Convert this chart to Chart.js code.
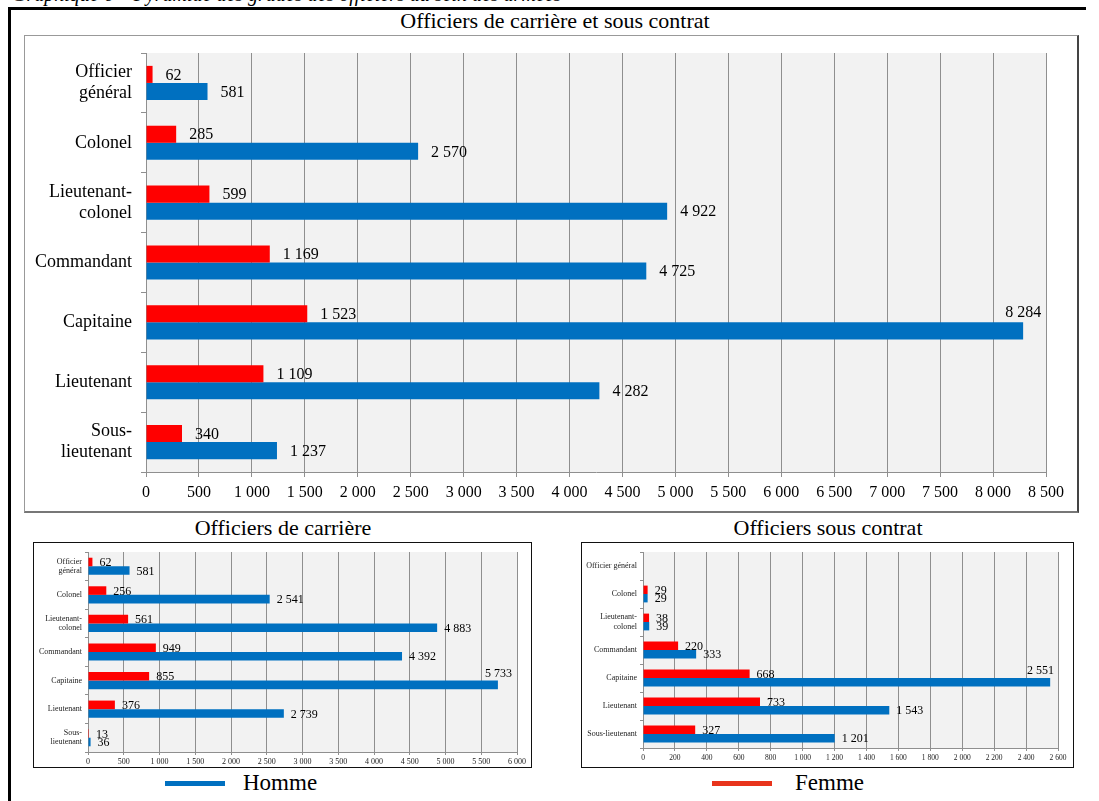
<!DOCTYPE html>
<html lang="fr">
<head>
<meta charset="utf-8">
<title>Officiers de carrière et sous contrat</title>
<script src="https://cdn.jsdelivr.net/npm/chart.js@4.4.1/dist/chart.umd.min.js"></script>
<style>
  html, body { margin: 0; padding: 0; background: #fff; }
  body { width: 1099px; height: 801px; position: relative; overflow: hidden; font-family: 'Liberation Serif', serif; color: #000; }
  .abs { position: absolute; }
  .cut-title { left: 12px; top: -17px; font-style: italic; font-size: 20px; white-space: nowrap; }
  .frame-top { left: 8px; top: 7px; width: 1078px; height: 3px; background: #000; }
  .frame-left { left: 8px; top: 7px; width: 3px; height: 800px; background: #000; }
  .title { font-size: 22px; text-align: center; white-space: nowrap; }
  .box-main { left: 24px; top: 35px; width: 1052px; height: 475px; border: 1px solid #999; border-right: 2px solid #444; border-bottom: 2px solid #777; }
  .box-small { border: 1px solid #111; }
  canvas { display: block; }
  .leg-line { height: 5px; }
  .leg-text { font-size: 23px; line-height: 26px; }
</style>
</head>
<body>
<div class="abs cut-title">Graphique 6 – Pyramide des grades des officiers au sein des armées</div>
<div class="abs frame-top"></div>
<div class="abs frame-left"></div>

<div class="abs title" style="left:24px; width:1062px; top:8px;">Officiers de carrière et sous contrat</div>
<div class="abs box-main"><canvas id="totalChart" width="1052" height="475"></canvas></div>

<div class="abs title" style="left:33px; width:500px; top:515px;">Officiers de carrière</div>
<div class="abs box-small" style="left:33px; top:542px; width:497px; height:224px;"><canvas id="carriereChart" width="497" height="224"></canvas></div>

<div class="abs title" style="left:581px; width:494px; top:515px;">Officiers sous contrat</div>
<div class="abs box-small" style="left:581px; top:542px; width:491px; height:224px;"><canvas id="contratChart" width="491" height="224"></canvas></div>

<div class="abs leg-line" style="left:165px; top:781px; width:60px; background:#0070c0;"></div>
<div class="abs leg-text" style="left:243px; top:770px;">Homme</div>
<div class="abs leg-line" style="left:712px; top:781px; width:60px; background:#e8341c;"></div>
<div class="abs leg-text" style="left:795px; top:770px;">Femme</div>

<script>
// Grades (top to bottom)
const categories = ['Officier général', 'Colonel', 'Lieutenant-colonel', 'Commandant', 'Capitaine', 'Lieutenant', 'Sous-lieutenant'];

// Officiers de carrière et sous contrat
const totalFemme = [62, 285, 599, 1169, 1523, 1109, 340];
const totalHomme = [581, 2570, 4922, 4725, 8284, 4282, 1237];

// Officiers de carrière
const carriereFemme = [62, 256, 561, 949, 855, 376, 13];
const carriereHomme = [581, 2541, 4883, 4392, 5733, 2739, 36];

// Officiers sous contrat (pas d'officier général)
const contratFemme = [0, 29, 38, 220, 668, 733, 327];
const contratHomme = [0, 29, 39, 333, 2551, 1543, 1201];

// Axis ranges: min, max, step
const totalAxis = [0, 8500, 500];
const carriereAxis = [0, 6000, 500];
const contratAxis = [0, 2600, 200];

const RED = '#ff0000';
const BLUE = '#0070c0';
const GRID = '#8f8f8f';

Chart.defaults.font.family = "'Liberation Serif', serif";
Chart.defaults.color = '#000';

function fmt(v) {
    return String(v).replace(/\B(?=(\d{3})+(?!\d))/g, ' ');
}

// break long grade names over two lines
function splitLabel(name, compact) {
    if (name === 'Lieutenant-colonel') return ['Lieutenant-', 'colonel'];
    if (compact) return name;
    if (name === 'Officier général') return ['Officier', 'général'];
    if (name === 'Sous-lieutenant') return ['Sous-', 'lieutenant'];
    return name;
}

// grey plot background + value labels next to the bars
const barDecor = {
    id: 'barDecor',
    beforeDraw(chart) {
        const a = chart.chartArea;
        const ctx = chart.ctx;
        ctx.save();
        ctx.fillStyle = '#f2f2f2';
        ctx.fillRect(a.left, a.top, a.right - a.left, a.bottom - a.top);
        ctx.restore();
    },
    afterDatasetsDraw(chart, args, opts) {
        const ctx = chart.ctx;
        const a = chart.chartArea;
        ctx.save();
        ctx.font = opts.size + "px 'Liberation Serif', serif";
        ctx.fillStyle = '#000';
        ctx.textBaseline = 'middle';
        chart.data.datasets.forEach((ds, i) => {
            chart.getDatasetMeta(i).data.forEach((bar, j) => {
                const v = ds.data[j];
                if (!v) return;
                const txt = fmt(v);
                const w = ctx.measureText(txt).width;
                if (bar.x + opts.offset + w > a.right - 2) {
                    ctx.textAlign = 'right';
                    const right = Math.min(bar.x + opts.over, a.right - 4);
                    ctx.fillText(txt, right, bar.y - bar.height / 2 - opts.size * 0.6);
                } else {
                    ctx.textAlign = 'left';
                    ctx.fillText(txt, bar.x + opts.offset, bar.y + 1);
                }
            });
        });
        ctx.restore();
    }
};

function makeChart(id, femme, homme, axis, s) {
    const ctx = document.getElementById(id).getContext('2d');
    return new Chart(ctx, {
        type: 'bar',
        data: {
            labels: categories,
            datasets: [
                { label: 'Femme', data: femme, backgroundColor: RED },
                { label: 'Homme', data: homme, backgroundColor: BLUE }
            ]
        },
        options: {
            indexAxis: 'y',
            responsive: false,
            animation: false,
            devicePixelRatio: 1,
            categoryPercentage: s.cat,
            barPercentage: 1,
            layout: { padding: { top: s.top, right: s.right, left: 0, bottom: 0 } },
            plugins: {
                legend: { display: false },
                tooltip: { enabled: false },
                barDecor: { size: s.valueSize, offset: s.offset, over: s.over }
            },
            scales: {
                x: {
                    min: axis[0],
                    max: axis[1],
                    afterFit: scale => {
                        scale.height = s.xh;
                        scale.paddingLeft = 0;
                        scale.paddingRight = 0;
                    },
                    ticks: {
                        stepSize: axis[2],
                        maxRotation: 0,
                        autoSkip: false,
                        padding: s.xpad,
                        color: s.tickColor,
                        font: { size: s.xSize },
                        callback: v => fmt(v)
                    },
                    grid: { color: GRID, tickLength: s.tick, tickColor: GRID },
                    border: { color: GRID }
                },
                y: {
                    afterFit: scale => {
                        scale.width = s.yw;
                        scale.paddingTop = 0;
                        scale.paddingBottom = 0;
                    },
                    ticks: {
                        padding: s.ypad,
                        color: s.tickColor,
                        font: { size: s.ySize, lineHeight: 1.15 },
                        callback: (v, i) => splitLabel(categories[i], s.compact)
                    },
                    grid: { drawOnChartArea: false, tickLength: s.tick, tickColor: GRID },
                    border: { color: GRID }
                }
            }
        },
        plugins: [barDecor]
    });
}

makeChart('totalChart', totalFemme, totalHomme, totalAxis, {
    cat: 0.57, top: 17, right: 31, xh: 39, yw: 121, xpad: 6, ypad: 9, tick: 5,
    xSize: 16, ySize: 18, valueSize: 16, offset: 13, over: 18, compact: false, tickColor: '#000'
});

makeChart('carriereChart', carriereFemme, carriereHomme, carriereAxis, {
    cat: 0.6, top: 9, right: 14, xh: 15, yw: 54, xpad: 2, ypad: 3, tick: 3,
    xSize: 8, ySize: 8, valueSize: 12, offset: 7, over: 14, compact: false, tickColor: '#222'
});

makeChart('contratChart', contratFemme, contratHomme, contratAxis, {
    cat: 0.6, top: 9, right: 15, xh: 19, yw: 61, xpad: 3, ypad: 3, tick: 3,
    xSize: 7.5, ySize: 8, valueSize: 12, offset: 7, over: 14, compact: true, tickColor: '#222'
});
</script>
</body>
</html>
